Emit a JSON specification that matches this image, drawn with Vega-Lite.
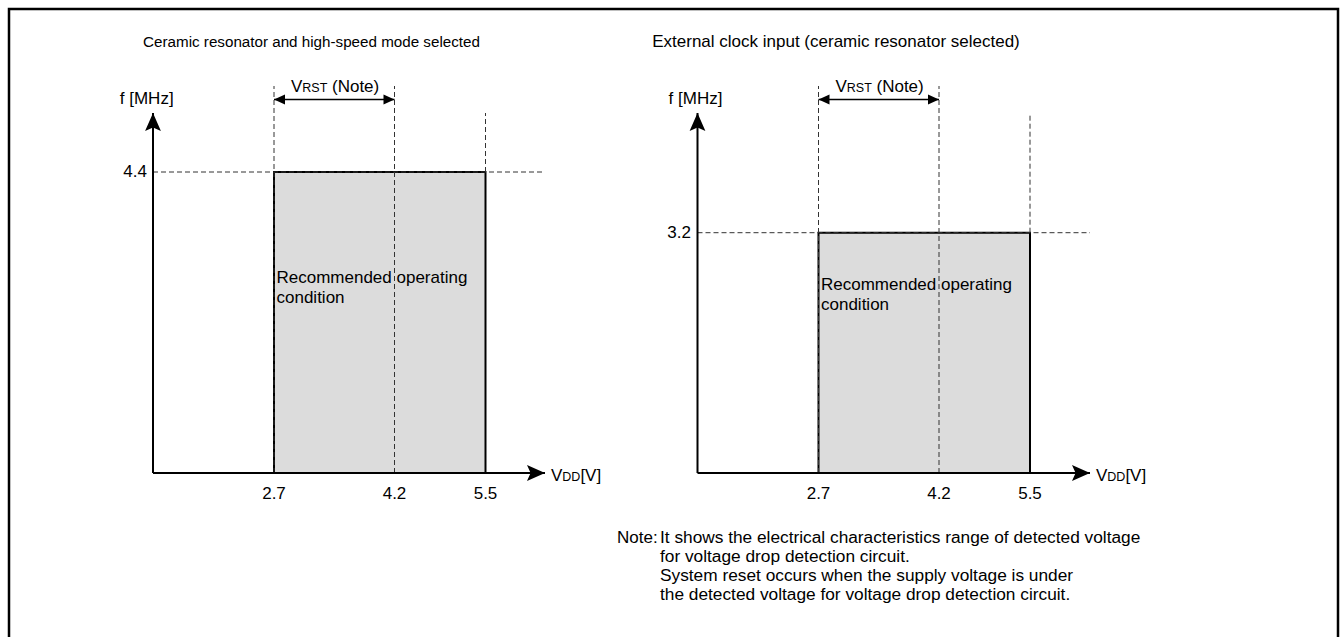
{
  "$schema": "https://vega.github.io/schema/vega-lite/v6.json",
  "width": 1329,
  "height": 636,
  "autosize": "none",
  "padding": {"left": 9, "top": 9, "right": 5, "bottom": -8},
  "background": "white",
  "config": {
    "view": {"stroke": "#000", "strokeWidth": 2.5},
    "font": "Liberation Sans",
    "text": {"font": "Liberation Sans", "fontSize": 17, "color": "#000"}
  },
  "resolve": {"scale": {"x": "independent", "y": "independent"}},
  "layer": [
    {
      "data": {"values": [{"title": "Ceramic resonator and high-speed mode selected", "region": "Recommended operating\ncondition", "v_low": 2.7, "v_rst": 4.2, "v_high": 5.5, "f_min": 0, "f_max": 4.4}]},
      "layer": [
        {
          "mark": {"type": "rect", "fill": "#dcdcdc", "stroke": "#000", "strokeWidth": 2},
          "encoding": {
            "x": {"field": "v_low", "type": "quantitative",
                  "scale": {"domain": [0, 2.7, 4.2, 5.5, 6.3], "range": [144, 265, 385.5, 476.5, 536], "nice": false, "zero": false},
                  "axis": null},
            "x2": {"field": "v_high"},
            "y": {"field": "f_min", "type": "quantitative",
                  "scale": {"domain": [0, 4.4, 5.5, 6.0], "range": [464, 163, 104, 77], "nice": false, "zero": false},
                  "axis": null},
            "y2": {"field": "f_max"}
          }
        },
        {
          "transform": [{"fold": ["v_low", "v_rst"], "as": ["k", "v"]}],
          "mark": {"type": "rule", "strokeDash": [5, 3], "color": "#333", "strokeWidth": 1},
          "encoding": {
            "x": {"field": "v", "type": "quantitative", "axis": null},
            "y": {"datum": 0, "type": "quantitative", "axis": null},
            "y2": {"datum": 6.0}
          }
        },
        {
          "mark": {"type": "rule", "strokeDash": [5, 3], "color": "#333", "strokeWidth": 1},
          "encoding": {
            "x": {"field": "v_high", "type": "quantitative", "axis": null},
            "y": {"field": "f_max", "type": "quantitative", "axis": null},
            "y2": {"datum": 5.5}
          }
        },
        {
          "mark": {"type": "rule", "strokeDash": [5, 3], "color": "#333", "strokeWidth": 1},
          "encoding": {
            "x": {"datum": 0, "type": "quantitative", "axis": null},
            "x2": {"datum": 6.3},
            "y": {"field": "f_max", "type": "quantitative", "axis": null}
          }
        },
        {
          "mark": {"type": "rule", "color": "#000", "strokeWidth": 2},
          "encoding": {
            "x": {"datum": 0, "type": "quantitative", "axis": null},
            "x2": {"datum": 6.3},
            "y": {"datum": 0, "type": "quantitative", "axis": null}
          }
        },
        {
          "mark": {"type": "rule", "color": "#000", "strokeWidth": 2},
          "encoding": {
            "x": {"datum": 0, "type": "quantitative", "axis": null},
            "y": {"datum": 0, "type": "quantitative", "axis": null},
            "y2": {"datum": 5.5}
          }
        },
        {
          "mark": {"type": "point", "filled": true, "color": "#000", "opacity": 1, "size": 1296, "shape": "M0,0 L-1,-0.44 L-0.8,0 L-1,0.44 Z"},
          "encoding": {
            "x": {"datum": 6.3, "type": "quantitative", "axis": null},
            "y": {"datum": 0, "type": "quantitative", "axis": null}
          }
        },
        {
          "mark": {"type": "point", "filled": true, "color": "#000", "opacity": 1, "size": 1296, "shape": "M0,0 L-0.44,1 L0,0.8 L0.44,1 Z"},
          "encoding": {
            "x": {"datum": 0, "type": "quantitative", "axis": null},
            "y": {"datum": 5.5, "type": "quantitative", "axis": null}
          }
        },
        {
          "mark": {"type": "rule", "color": "#000", "strokeWidth": 1.5},
          "encoding": {
            "x": {"field": "v_low", "type": "quantitative", "axis": null},
            "x2": {"field": "v_rst"},
            "y": {"datum": 5.75, "type": "quantitative", "axis": null}
          }
        },
        {
          "mark": {"type": "point", "filled": true, "color": "#000", "opacity": 1, "size": 484, "shape": "M0,0 L1,-0.45 L1,0.45 Z"},
          "encoding": {
            "x": {"field": "v_low", "type": "quantitative", "axis": null},
            "y": {"datum": 5.75, "type": "quantitative", "axis": null}
          }
        },
        {
          "mark": {"type": "point", "filled": true, "color": "#000", "opacity": 1, "size": 484, "shape": "M0,0 L-1,-0.45 L-1,0.45 Z"},
          "encoding": {
            "x": {"field": "v_rst", "type": "quantitative", "axis": null},
            "y": {"datum": 5.75, "type": "quantitative", "axis": null}
          }
        },
        {
          "transform": [{"fold": ["v_low", "v_rst", "v_high"], "as": ["k", "v"]}],
          "mark": {"type": "text", "align": "center", "baseline": "alphabetic", "dy": 26, "fontSize": 17},
          "encoding": {
            "x": {"field": "v", "type": "quantitative", "axis": null},
            "y": {"datum": 0, "type": "quantitative", "axis": null},
            "text": {"field": "v", "type": "quantitative", "format": ".1f"}
          }
        },
        {
          "mark": {"type": "text", "align": "right", "baseline": "middle", "dx": -6, "fontSize": 17},
          "encoding": {
            "x": {"datum": 0, "type": "quantitative", "axis": null},
            "y": {"field": "f_max", "type": "quantitative", "axis": null},
            "text": {"field": "f_max", "type": "quantitative", "format": ".1f"}
          }
        },
        {
          "mark": {"type": "text", "align": "center", "baseline": "alphabetic", "dx": -6.3, "dy": -9, "fontSize": 17},
          "encoding": {
            "x": {"datum": 0, "type": "quantitative", "axis": null},
            "y": {"datum": 5.5, "type": "quantitative", "axis": null},
            "text": {"value": "f [MHz]"}
          }
        },
        {
          "mark": {"type": "text", "align": "center", "baseline": "alphabetic", "dx": 37.5, "dy": -39, "fontSize": 15.2},
          "encoding": {
            "x": {"field": "v_low", "type": "quantitative", "axis": null},
            "y": {"datum": 6.0, "type": "quantitative", "axis": null},
            "text": {"field": "title"}
          }
        },
        {
          "mark": {"type": "text", "align": "left", "baseline": "alphabetic", "dx": 17, "dy": -8, "fontSize": 17},
          "encoding": {
            "x": {"field": "v_low", "type": "quantitative", "axis": null},
            "y": {"datum": 5.75, "type": "quantitative", "axis": null},
            "text": {"value": "V"}
          }
        },
        {
          "mark": {"type": "text", "align": "left", "baseline": "alphabetic", "dx": 28.3, "dy": -8, "fontSize": 12.5},
          "encoding": {
            "x": {"field": "v_low", "type": "quantitative", "axis": null},
            "y": {"datum": 5.75, "type": "quantitative", "axis": null},
            "text": {"value": "RST"}
          }
        },
        {
          "mark": {"type": "text", "align": "left", "baseline": "alphabetic", "dx": 58, "dy": -8, "fontSize": 17},
          "encoding": {
            "x": {"field": "v_low", "type": "quantitative", "axis": null},
            "y": {"datum": 5.75, "type": "quantitative", "axis": null},
            "text": {"value": "(Note)"}
          }
        },
        {
          "mark": {"type": "text", "align": "left", "baseline": "alphabetic", "dx": 2.5, "dy": -190, "fontSize": 17, "lineBreak": "\n", "lineHeight": 20},
          "encoding": {
            "x": {"field": "v_low", "type": "quantitative", "axis": null},
            "y": {"field": "f_min", "type": "quantitative", "axis": null},
            "text": {"field": "region"}
          }
        },
        {
          "mark": {"type": "text", "align": "left", "baseline": "alphabetic", "dx": 6, "dy": 8, "fontSize": 17},
          "encoding": {
            "x": {"datum": 6.3, "type": "quantitative", "axis": null},
            "y": {"datum": 0, "type": "quantitative", "axis": null},
            "text": {"value": "V"}
          }
        },
        {
          "mark": {"type": "text", "align": "left", "baseline": "alphabetic", "dx": 17.3, "dy": 8, "fontSize": 12.5},
          "encoding": {
            "x": {"datum": 6.3, "type": "quantitative", "axis": null},
            "y": {"datum": 0, "type": "quantitative", "axis": null},
            "text": {"value": "DD"}
          }
        },
        {
          "mark": {"type": "text", "align": "left", "baseline": "alphabetic", "dx": 35.4, "dy": 8, "fontSize": 17},
          "encoding": {
            "x": {"datum": 6.3, "type": "quantitative", "axis": null},
            "y": {"datum": 0, "type": "quantitative", "axis": null},
            "text": {"value": "[V]"}
          }
        }
      ]
    },
    {
      "data": {"values": [{"title": "External clock input (ceramic resonator selected)", "region": "Recommended operating\ncondition", "note": "It shows the electrical characteristics range of detected voltage\nfor voltage drop detection circuit.\nSystem reset occurs when the supply voltage is under\nthe detected voltage for voltage drop detection circuit.", "v_low": 2.7, "v_rst": 4.2, "v_high": 5.5, "f_min": 0, "f_max": 3.2}]},
      "layer": [
        {
          "mark": {"type": "rect", "fill": "#dcdcdc", "stroke": "#000", "strokeWidth": 2},
          "encoding": {
            "x": {"field": "v_low", "type": "quantitative",
                  "scale": {"domain": [0, 2.7, 4.2, 5.5, 6.3], "range": [688.5, 809.5, 930, 1021, 1081], "nice": false, "zero": false},
                  "axis": null},
            "x2": {"field": "v_high"},
            "y": {"field": "f_min", "type": "quantitative",
                  "scale": {"domain": [0, 3.2, 4.3, 4.8], "range": [464, 223.7, 104, 77], "nice": false, "zero": false},
                  "axis": null},
            "y2": {"field": "f_max"}
          }
        },
        {
          "transform": [{"fold": ["v_low", "v_rst"], "as": ["k", "v"]}],
          "mark": {"type": "rule", "strokeDash": [5, 3], "color": "#333", "strokeWidth": 1},
          "encoding": {
            "x": {"field": "v", "type": "quantitative", "axis": null},
            "y": {"datum": 0, "type": "quantitative", "axis": null},
            "y2": {"datum": 4.8}
          }
        },
        {
          "mark": {"type": "rule", "strokeDash": [5, 3], "color": "#333", "strokeWidth": 1},
          "encoding": {
            "x": {"field": "v_high", "type": "quantitative", "axis": null},
            "y": {"field": "f_max", "type": "quantitative", "axis": null},
            "y2": {"datum": 4.3}
          }
        },
        {
          "mark": {"type": "rule", "strokeDash": [5, 3], "color": "#333", "strokeWidth": 1},
          "encoding": {
            "x": {"datum": 0, "type": "quantitative", "axis": null},
            "x2": {"datum": 6.3},
            "y": {"field": "f_max", "type": "quantitative", "axis": null}
          }
        },
        {
          "mark": {"type": "rule", "color": "#000", "strokeWidth": 2},
          "encoding": {
            "x": {"datum": 0, "type": "quantitative", "axis": null},
            "x2": {"datum": 6.3},
            "y": {"datum": 0, "type": "quantitative", "axis": null}
          }
        },
        {
          "mark": {"type": "rule", "color": "#000", "strokeWidth": 2},
          "encoding": {
            "x": {"datum": 0, "type": "quantitative", "axis": null},
            "y": {"datum": 0, "type": "quantitative", "axis": null},
            "y2": {"datum": 4.3}
          }
        },
        {
          "mark": {"type": "point", "filled": true, "color": "#000", "opacity": 1, "size": 1296, "shape": "M0,0 L-1,-0.44 L-0.8,0 L-1,0.44 Z"},
          "encoding": {
            "x": {"datum": 6.3, "type": "quantitative", "axis": null},
            "y": {"datum": 0, "type": "quantitative", "axis": null}
          }
        },
        {
          "mark": {"type": "point", "filled": true, "color": "#000", "opacity": 1, "size": 1296, "shape": "M0,0 L-0.44,1 L0,0.8 L0.44,1 Z"},
          "encoding": {
            "x": {"datum": 0, "type": "quantitative", "axis": null},
            "y": {"datum": 4.3, "type": "quantitative", "axis": null}
          }
        },
        {
          "mark": {"type": "rule", "color": "#000", "strokeWidth": 1.5},
          "encoding": {
            "x": {"field": "v_low", "type": "quantitative", "axis": null},
            "x2": {"field": "v_rst"},
            "y": {"datum": 4.55, "type": "quantitative", "axis": null}
          }
        },
        {
          "mark": {"type": "point", "filled": true, "color": "#000", "opacity": 1, "size": 484, "shape": "M0,0 L1,-0.45 L1,0.45 Z"},
          "encoding": {
            "x": {"field": "v_low", "type": "quantitative", "axis": null},
            "y": {"datum": 4.55, "type": "quantitative", "axis": null}
          }
        },
        {
          "mark": {"type": "point", "filled": true, "color": "#000", "opacity": 1, "size": 484, "shape": "M0,0 L-1,-0.45 L-1,0.45 Z"},
          "encoding": {
            "x": {"field": "v_rst", "type": "quantitative", "axis": null},
            "y": {"datum": 4.55, "type": "quantitative", "axis": null}
          }
        },
        {
          "transform": [{"fold": ["v_low", "v_rst", "v_high"], "as": ["k", "v"]}],
          "mark": {"type": "text", "align": "center", "baseline": "alphabetic", "dy": 26, "fontSize": 17},
          "encoding": {
            "x": {"field": "v", "type": "quantitative", "axis": null},
            "y": {"datum": 0, "type": "quantitative", "axis": null},
            "text": {"field": "v", "type": "quantitative", "format": ".1f"}
          }
        },
        {
          "mark": {"type": "text", "align": "right", "baseline": "middle", "dx": -6.5, "fontSize": 17},
          "encoding": {
            "x": {"datum": 0, "type": "quantitative", "axis": null},
            "y": {"field": "f_max", "type": "quantitative", "axis": null},
            "text": {"field": "f_max", "type": "quantitative", "format": ".1f"}
          }
        },
        {
          "mark": {"type": "text", "align": "center", "baseline": "alphabetic", "dx": -2, "dy": -9, "fontSize": 17},
          "encoding": {
            "x": {"datum": 0, "type": "quantitative", "axis": null},
            "y": {"datum": 4.3, "type": "quantitative", "axis": null},
            "text": {"value": "f [MHz]"}
          }
        },
        {
          "mark": {"type": "text", "align": "center", "baseline": "alphabetic", "dx": 17.5, "dy": -39, "fontSize": 17},
          "encoding": {
            "x": {"field": "v_low", "type": "quantitative", "axis": null},
            "y": {"datum": 4.8, "type": "quantitative", "axis": null},
            "text": {"field": "title"}
          }
        },
        {
          "mark": {"type": "text", "align": "left", "baseline": "alphabetic", "dx": 17, "dy": -8, "fontSize": 17},
          "encoding": {
            "x": {"field": "v_low", "type": "quantitative", "axis": null},
            "y": {"datum": 4.55, "type": "quantitative", "axis": null},
            "text": {"value": "V"}
          }
        },
        {
          "mark": {"type": "text", "align": "left", "baseline": "alphabetic", "dx": 28.3, "dy": -8, "fontSize": 12.5},
          "encoding": {
            "x": {"field": "v_low", "type": "quantitative", "axis": null},
            "y": {"datum": 4.55, "type": "quantitative", "axis": null},
            "text": {"value": "RST"}
          }
        },
        {
          "mark": {"type": "text", "align": "left", "baseline": "alphabetic", "dx": 58, "dy": -8, "fontSize": 17},
          "encoding": {
            "x": {"field": "v_low", "type": "quantitative", "axis": null},
            "y": {"datum": 4.55, "type": "quantitative", "axis": null},
            "text": {"value": "(Note)"}
          }
        },
        {
          "mark": {"type": "text", "align": "left", "baseline": "alphabetic", "dx": 2.5, "dy": -183, "fontSize": 17, "lineBreak": "\n", "lineHeight": 20},
          "encoding": {
            "x": {"field": "v_low", "type": "quantitative", "axis": null},
            "y": {"field": "f_min", "type": "quantitative", "axis": null},
            "text": {"field": "region"}
          }
        },
        {
          "mark": {"type": "text", "align": "left", "baseline": "alphabetic", "dx": 6, "dy": 8, "fontSize": 17},
          "encoding": {
            "x": {"datum": 6.3, "type": "quantitative", "axis": null},
            "y": {"datum": 0, "type": "quantitative", "axis": null},
            "text": {"value": "V"}
          }
        },
        {
          "mark": {"type": "text", "align": "left", "baseline": "alphabetic", "dx": 17.3, "dy": 8, "fontSize": 12.5},
          "encoding": {
            "x": {"datum": 6.3, "type": "quantitative", "axis": null},
            "y": {"datum": 0, "type": "quantitative", "axis": null},
            "text": {"value": "DD"}
          }
        },
        {
          "mark": {"type": "text", "align": "left", "baseline": "alphabetic", "dx": 35.4, "dy": 8, "fontSize": 17},
          "encoding": {
            "x": {"datum": 6.3, "type": "quantitative", "axis": null},
            "y": {"datum": 0, "type": "quantitative", "axis": null},
            "text": {"value": "[V]"}
          }
        },
        {
          "mark": {"type": "text", "align": "left", "baseline": "alphabetic", "dx": -80.5, "dy": 70, "fontSize": 17},
          "encoding": {
            "x": {"datum": 0, "type": "quantitative", "axis": null},
            "y": {"datum": 0, "type": "quantitative", "axis": null},
            "text": {"value": "Note:"}
          }
        },
        {
          "mark": {"type": "text", "align": "left", "baseline": "alphabetic", "dx": -37.5, "dy": 70, "fontSize": 17.3, "lineBreak": "\n", "lineHeight": 19},
          "encoding": {
            "x": {"datum": 0, "type": "quantitative", "axis": null},
            "y": {"datum": 0, "type": "quantitative", "axis": null},
            "text": {"field": "note"}
          }
        }
      ]
    }
  ]
}
